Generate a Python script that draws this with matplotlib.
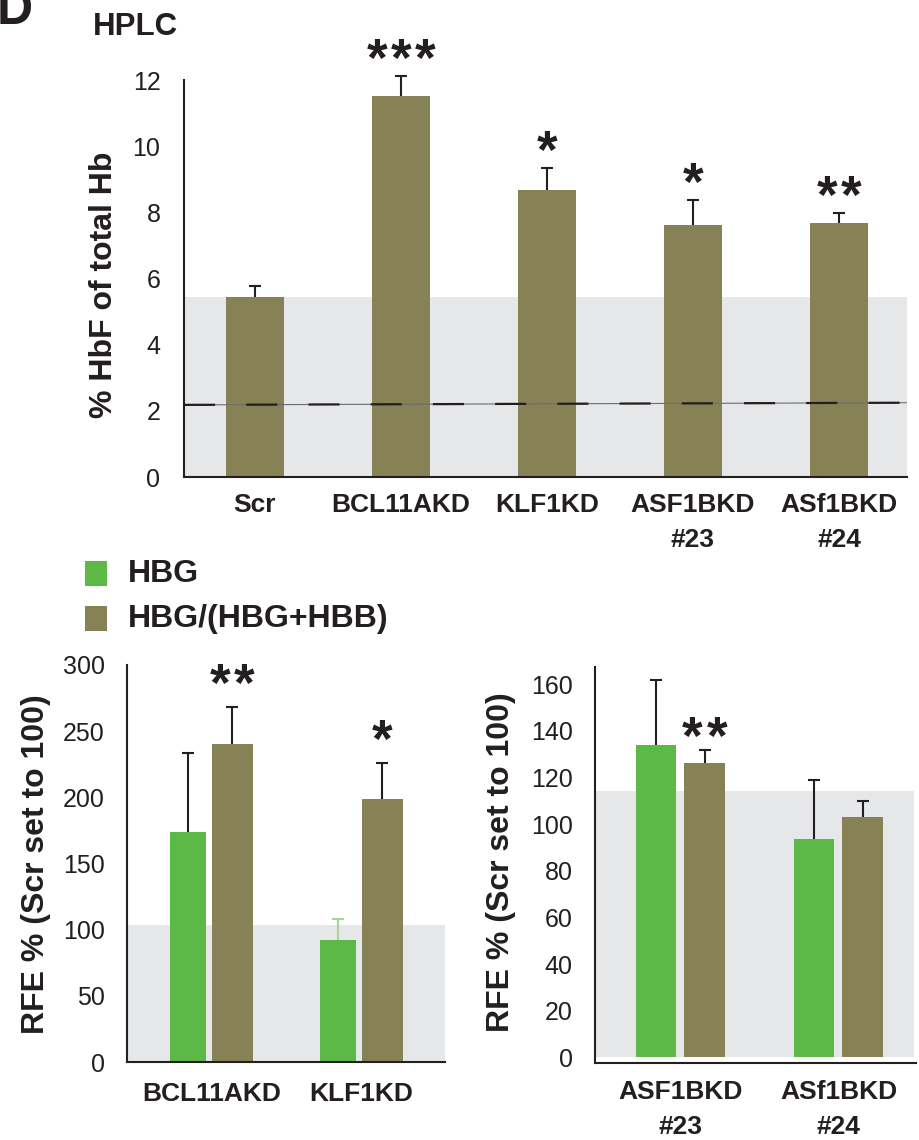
import matplotlib
matplotlib.use('Agg')
import matplotlib.pyplot as plt
from matplotlib.patches import Rectangle

plt.rcParams['font.family'] = ['Liberation Sans', 'DejaVu Sans']

INK = '#231f20'
OLIVE = '#878256'
GREEN = '#5cb947'
GREEN_PALE = '#a3d598'
BAND = '#e6e7e8'

# HPLC : % HbF du Hb total
hplc_labels = ['Scr', 'BCL11AKD', 'KLF1KD', 'ASF1BKD\n#23', 'ASf1BKD\n#24']
hplc_mean = [5.44, 11.51, 8.67, 7.61, 7.67]
hplc_sd = [0.33, 0.60, 0.67, 0.76, 0.30]
hplc_stars = [0, 3, 1, 1, 2]
hplc_ref = [2.18, 2.245]          # droite pointillee (debut, fin)

# RFE % (Scr = 100), panneau gauche
left_labels = ['BCL11AKD', 'KLF1KD']
left_hbg = [173.8, 92.2]
left_hbg_sd = [59.7, 15.8]
left_ratio = [240.3, 198.8]
left_ratio_sd = [28.0, 27.2]
left_stars = [2, 1]
left_band = 103.5

# RFE % (Scr = 100), panneau droit
right_labels = ['ASF1BKD\n#23', 'ASf1BKD\n#24']
right_hbg = [133.9, 93.6]
right_hbg_sd = [27.8, 25.3]
right_ratio = [126.2, 103.0]
right_ratio_sd = [5.5, 6.9]
right_stars = [2, 0]
right_band = 114.2

legend_labels = ['HBG', 'HBG/(HBG+HBB)']
legend_colors = [GREEN, OLIVE]

W, H = 919, 1140


def fig_rect(x0, y0, x1, y1):
    # pixels (origine en haut a gauche) -> fraction de figure
    return [x0 / W, 1 - y1 / H, (x1 - x0) / W, (y1 - y0) / H]


def barres(ax, x, h, err, color, width, ecolors):
    ax.bar(x, h, width=width, color=color, zorder=2)
    for xi, hi, ei, ec in zip(x, h, err, ecolors):
        # barre d'erreur vers le haut seulement
        ax.vlines(xi, hi, hi + ei, colors=ec, lw=1.5, zorder=3, clip_on=False)
        ax.plot(xi, hi + ei, marker='_', ms=8, mew=1.5, color=ec, zorder=3,
                clip_on=False)


def etoiles(ax, x, top, stars, dy):
    for xi, ti, n in zip(x, top, stars):
        for k in range(n):
            ax.annotate('*', (xi, ti), xytext=((k - (n - 1) / 2) * 17.5, dy),
                        textcoords='offset points', ha='center', va='baseline',
                        fontsize=38, fontweight='bold', color=INK, zorder=4,
                        annotation_clip=False)


def habillage(ax, xlim, ylim, yticks, xticks, xlabels, ypad, xpad):
    for s in ['top', 'right']:
        ax.spines[s].set_visible(False)
    for s in ['left', 'bottom']:
        ax.spines[s].set_color(INK)
        ax.spines[s].set_linewidth(1.5)
    ax.set_xlim(*xlim)
    ax.set_ylim(*ylim)
    ax.set_yticks(yticks)
    ax.set_xticks(xticks)
    ax.set_xticklabels(xlabels, fontweight='bold', fontsize=19,
                       linespacing=1.6, color=INK)
    ax.tick_params(length=0)
    ax.tick_params(axis='y', labelsize=18, pad=ypad, labelcolor=INK)
    ax.tick_params(axis='x', pad=xpad)


fig = plt.figure(figsize=(W / 100, H / 100), dpi=100)

# --- HPLC ---
ax = fig.add_axes(fig_rect(184, 80, 907, 477))
x = list(range(len(hplc_mean)))
xl = (-0.486, 4.466)
ax.axhspan(0, hplc_mean[0], color=BAND, zorder=0, lw=0)
barres(ax, x, hplc_mean, hplc_sd, OLIVE, 0.40, [INK] * len(x))
ax.plot(xl, hplc_ref, color='#6d6d6d', lw=0.8, zorder=4)
ax.plot(xl, hplc_ref, color=INK, lw=1.6, dashes=(14, 14), zorder=4)
etoiles(ax, x, [m + s for m, s in zip(hplc_mean, hplc_sd)], hplc_stars, 0)
habillage(ax, xl, (0, 12), range(0, 13, 2), x, hplc_labels, 17, 11.5)

# --- RFE gauche ---
ax = fig.add_axes(fig_rect(127, 665, 445, 1062))
g = [0, 1]
ax.axhspan(0, left_band, color=BAND, zorder=0, lw=0)
xg = [i - 0.157 for i in g]
xo = [i + 0.140 for i in g]
barres(ax, xg, left_hbg, left_hbg_sd, GREEN, 0.24, [INK, GREEN_PALE])
barres(ax, xo, left_ratio, left_ratio_sd, OLIVE, 0.273, [INK, INK])
etoiles(ax, xo, [m + s for m, s in zip(left_ratio, left_ratio_sd)], left_stars, 4.5)
habillage(ax, (-0.563, 1.557), (0, 300), range(0, 301, 50), g, left_labels, 16, 14.5)

# --- RFE droit ---
ax = fig.add_axes(fig_rect(595, 667, 916, 1063))
ax.axhspan(0, right_band, xmax=0.994, color=BAND, zorder=0, lw=0)
xg = [i - 0.155 for i in g]
xo = [i + 0.152 for i in g]
barres(ax, xg, right_hbg, right_hbg_sd, GREEN, 0.255, [INK, INK])
barres(ax, xo, right_ratio, right_ratio_sd, OLIVE, 0.26, [INK, INK])
etoiles(ax, xo, [m + s for m, s in zip(right_ratio, right_ratio_sd)], right_stars, -3)
habillage(ax, (-0.541, 1.49), (-2.4, 167.3), range(0, 161, 20), g, right_labels, 16, 12)

# --- textes ---
fig.text(-3 / W, 1 - 24 / H, 'D', fontsize=36, fontweight='bold', color=INK,
         ha='left', va='baseline')
fig.text(93 / W, 1 - 27 / H, 'HPLC', fontsize=22.5, fontweight='bold', color=INK,
         ha='left', va='center')
fig.text(104 / W, 1 - 284.5 / H, '% HbF of total Hb', rotation=90, fontsize=23,
         fontweight='bold', color=INK, ha='center', va='center')
fig.text(36.5 / W, 1 - 864 / H, 'RFE % (Scr set to 100)', rotation=90, fontsize=23,
         fontweight='bold', color=INK, ha='center', va='center')
fig.text(501 / W, 1 - 862.5 / H, 'RFE % (Scr set to 100)', rotation=90, fontsize=23,
         fontweight='bold', color=INK, ha='center', va='center')

# legende
for i, (lab, col) in enumerate(zip(legend_labels, legend_colors)):
    y0 = 561 + 45 * i
    fig.add_artist(Rectangle((85 / W, 1 - (y0 + 25) / H), 22 / W, 25 / H,
                             transform=fig.transFigure, color=col, lw=0))
    fig.text(128 / W, 1 - (y0 + 12.5) / H, lab, fontsize=23, fontweight='bold',
             color=INK, ha='left', va='center')

fig.savefig('out.png', dpi=100)
